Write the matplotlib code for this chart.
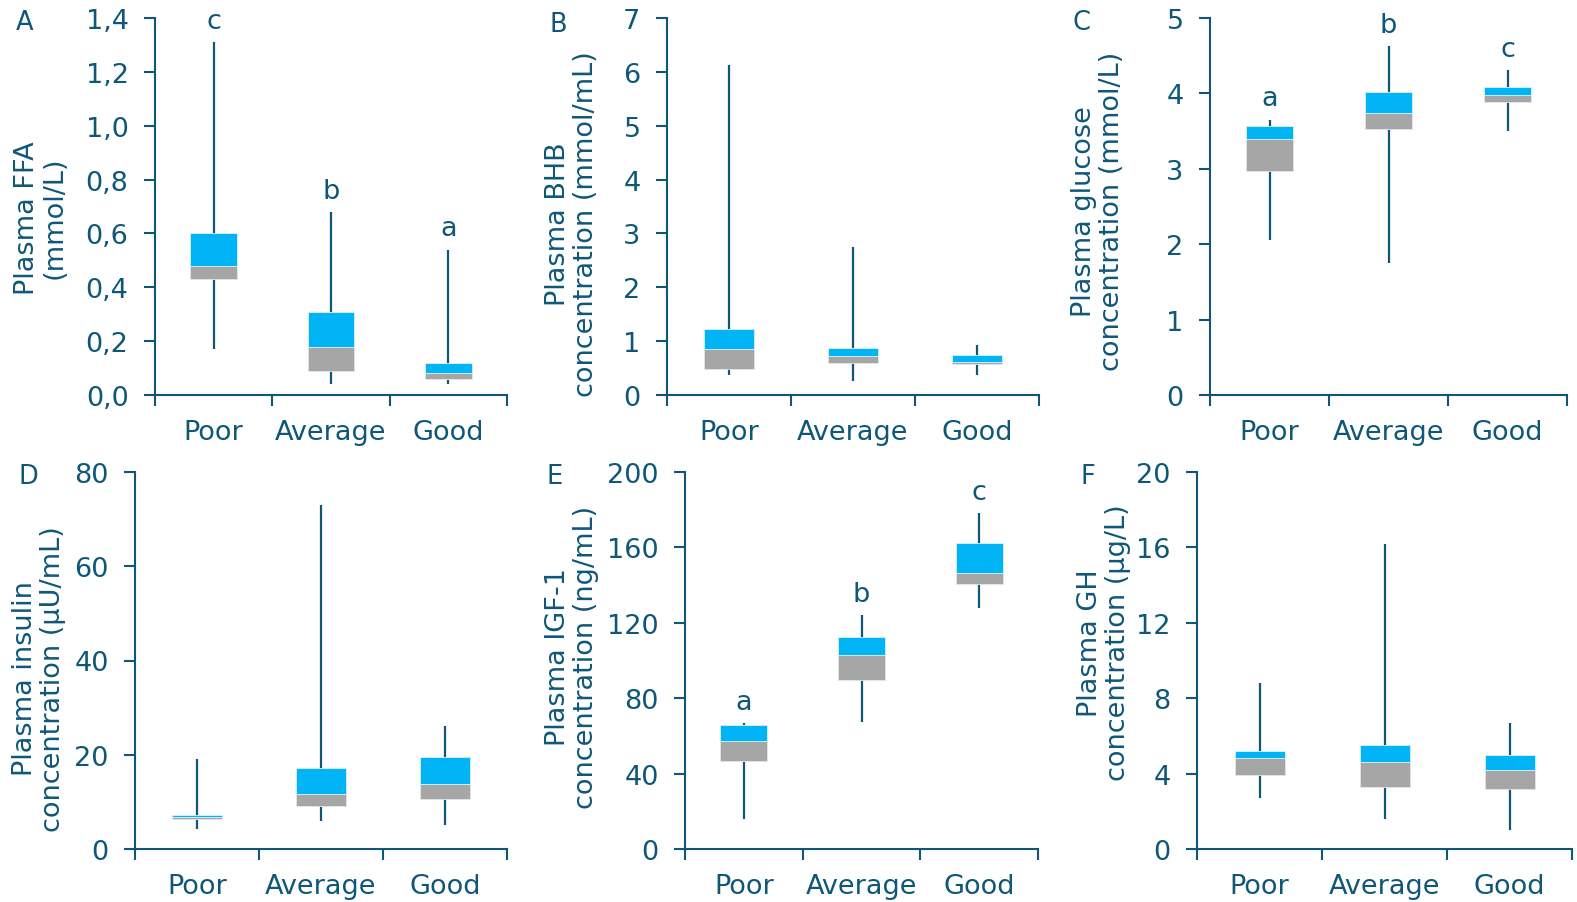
import matplotlib
matplotlib.use("Agg")
import matplotlib.pyplot as plt
import numpy as np

plt.rcParams['font.family'] = ['DejaVu Sans']

groups = ["Poor", "Average", "Good"]

# whisker low, Q1, median, Q3, whisker high for Poor / Average / Good
ffa_low = [0.17, 0.04, 0.04]
ffa_q1 = [0.43, 0.09, 0.06]
ffa_med = [0.48, 0.18, 0.08]
ffa_q3 = [0.60, 0.31, 0.12]
ffa_high = [1.31, 0.68, 0.54]
ffa_letters = ["c", "b", "a"]

bhb_low = [0.37, 0.26, 0.38]
bhb_q1 = [0.48, 0.59, 0.57]
bhb_med = [0.85, 0.73, 0.62]
bhb_q3 = [1.22, 0.87, 0.735]
bhb_high = [6.13, 2.74, 0.93]
bhb_letters = ["", "", ""]

glu_low = [2.05, 1.75, 3.50]
glu_q1 = [2.97, 3.53, 3.89]
glu_med = [3.40, 3.74, 3.98]
glu_q3 = [3.57, 4.02, 4.08]
glu_high = [3.65, 4.63, 4.31]
glu_letters = ["a", "b", "c"]

ins_low = [4.2, 5.9, 5.1]
ins_q1 = [6.3, 9.2, 10.6]
ins_med = [6.8, 11.7, 13.8]
ins_q3 = [7.2, 17.2, 19.6]
ins_high = [19.1, 72.9, 26.2]
ins_letters = ["", "", ""]

igf_low = [15.9, 67.5, 128.1]
igf_q1 = [46.6, 89.8, 140.6]
igf_med = [57.2, 102.7, 146.6]
igf_q3 = [65.7, 112.4, 162.4]
igf_high = [66.8, 124.0, 178.0]
igf_letters = ["a", "b", "c"]

gh_low = [2.7, 1.61, 1.0]
gh_q1 = [3.9, 3.30, 3.2]
gh_med = [4.81, 4.61, 4.19]
gh_q3 = [5.19, 5.51, 5.0]
gh_high = [8.78, 16.18, 6.68]
gh_letters = ["", "", ""]

DARK = "#0f5778"
BLUE = "#00b4f5"
GRAY = "#a6a6a6"
W, H = 1577, 903
FS = 19.5

fig = plt.figure(figsize=(W / 100, H / 100), dpi=100)

# (panel letter, ylabel, yticks, ticklabels, data, left px, right px, top px, bottom px,
#  letter px pos, ylabel x offset px, ylabel y frac)
panels = [
    ("A", "Plasma FFA\n(mmol/L)", np.arange(0, 1.41, 0.2),
     ["0,0", "0,2", "0,4", "0,6", "0,8", "1,0", "1,2", "1,4"],
     (ffa_low, ffa_q1, ffa_med, ffa_q3, ffa_high, ffa_letters),
     155, 507, 19, 396, (25, 23), 114, 0.472),
    ("B", "Plasma BHB\nconcentration (mmol/mL)", np.arange(0, 8, 1), None,
     (bhb_low, bhb_q1, bhb_med, bhb_q3, bhb_high, bhb_letters),
     667, 1039, 19, 396, (558, 25), 95, 0.456),
    ("C", "Plasma glucose\nconcentration (mmol/L)", np.arange(0, 6, 1), None,
     (glu_low, glu_q1, glu_med, glu_q3, glu_high, glu_letters),
     1210, 1567, 19, 396, (1082, 23), 112, 0.49),
    ("D", "Plasma insulin\nconcentration (\u00b5U/mL)", np.arange(0, 81, 20), None,
     (ins_low, ins_q1, ins_med, ins_q3, ins_high, ins_letters),
     135, 507, 473, 850, (28, 477), 96, 0.454),
    ("E", "Plasma IGF-1\nconcentration (ng/mL)", np.arange(0, 201, 40), None,
     (igf_low, igf_q1, igf_med, igf_q3, igf_high, igf_letters),
     685, 1038, 473, 850, (555, 477), 113, 0.512),
    ("F", "Plasma GH\nconcentration (\u00b5g/L)", np.arange(0, 21, 4), None,
     (gh_low, gh_q1, gh_med, gh_q3, gh_high, gh_letters),
     1197, 1572, 473, 850, (1088, 477), 93, 0.549),
]

for (tag, ylab, yt, ytl, data, l, r, t, b, tagpos, yoff, yfrac) in panels:
    low, q1, med, q3, high, letters = data
    ax = fig.add_axes([l / W, 1 - b / H, (r - l) / W, (b - t) / H])
    x = np.arange(len(groups)) + 0.5

    ax.vlines(x, low, high, color=DARK, lw=1.6, zorder=1)
    ax.bar(x, np.array(med) - np.array(q1), bottom=q1, width=0.4,
           color=GRAY, edgecolor="#e6e6e6", lw=0.6, zorder=2)
    ax.bar(x, np.array(q3) - np.array(med), bottom=med, width=0.4,
           color=BLUE, edgecolor="#d9f3ff", lw=0.6, zorder=2)
    for xi, hi, let in zip(x, high, letters):
        if let:
            ax.annotate(let, (xi, hi), xytext=(0, 6), textcoords="offset points",
                        ha="center", va="bottom", fontsize=FS, color=DARK)

    ax.set_xlim(0, 3)
    ax.set_ylim(yt[0], yt[-1])
    ax.set_xticks([0, 1, 2, 3])
    ax.set_xticklabels([])
    ax.set_xticks(x, minor=True)
    ax.set_xticklabels(groups, minor=True)
    ax.set_yticks(yt)
    if ytl is not None:
        ax.set_yticklabels(ytl)
    ax.tick_params(axis="x", which="major", direction="out", length=8, width=1.5, color=DARK)
    ax.tick_params(axis="x", which="minor", length=0, pad=17, labelsize=FS, labelcolor=DARK)
    ax.tick_params(axis="y", direction="out", length=8, width=1.5, color=DARK,
                   pad=11, labelsize=FS, labelcolor=DARK)
    for s in ["top", "right"]:
        ax.spines[s].set_visible(False)
    for s in ["left", "bottom"]:
        ax.spines[s].set_color(DARK)
        ax.spines[s].set_linewidth(1.5)
    ax.set_ylabel(ylab, fontsize=FS, color=DARK, va="center", linespacing=1.1)
    ax.yaxis.set_label_coords(-yoff / (r - l), yfrac)

    fig.text(tagpos[0] / W, 1 - tagpos[1] / H, tag, fontsize=18.5, color=DARK,
             ha="center", va="center")

fig.savefig("out.png", dpi=100)
